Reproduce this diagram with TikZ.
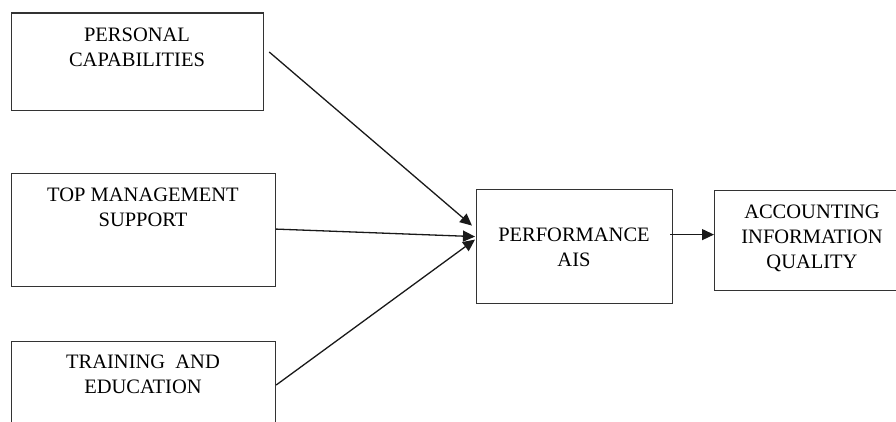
\documentclass[tikz,border=0pt]{standalone}
\usepackage{fontspec}
\setmainfont{Liberation Serif}
\usetikzlibrary{arrows.meta,calc}
\begin{document}
\begin{tikzpicture}[x=1pt,y=-1pt,
  box/.style={draw=black!80,line width=1.2pt,minimum width=#1,anchor=north west,inner sep=0pt},
  txt/.style={anchor=north,inner sep=0pt,align=center,font=\fontsize{20.5pt}{25pt}\selectfont},
  conn/.style={draw=black!90,line width=1.3pt,-{Triangle[length=12pt,width=11pt]}}]
\useasboundingbox (0,0) rectangle (896,422);
\clip (0,0) rectangle (896,422);
\node[box=252pt,minimum height=97.5pt] (b1) at (11,12.5) {};
\node[box=264pt,minimum height=113pt] (b2) at (11,173) {};
\node[box=264pt,minimum height=100pt] (b3) at (11,341) {};
\node[box=196pt,minimum height=114pt] (b4) at (476,189) {};
\node[box=196pt,minimum height=100pt] (b5) at (714,190) {};
\node[txt] (t1) at (137,27.5) {PERSONAL\\CAPABILITIES};
\node[txt] (t2) at (143,188) {TOP MANAGEMENT\\SUPPORT};
\node[txt] (t3) at (143,355) {TRAINING~ AND\\EDUCATION};
\node[txt] (t4) at (574,228) {PERFORMANCE\\AIS};
\node[txt] (t5) at (812,205) {ACCOUNTING\\INFORMATION\\QUALITY};
\draw[conn] ($(b1.north east)+(5,39.5)$) -- ($(b4.west)+(-4,-21)$);
\draw[conn] ($(b2.east)+(0,-1)$) -- ($(b4.west)+(-1,-10)$);
\draw[conn] ($(b3.north east)+(0,44)$) -- ($(b4.west)+(-1,-7)$);
\draw[conn] ($(b4.east)+(-3,-12)$) -- ($(b5.west)+(0,-6)$);
\end{tikzpicture}
\end{document}
